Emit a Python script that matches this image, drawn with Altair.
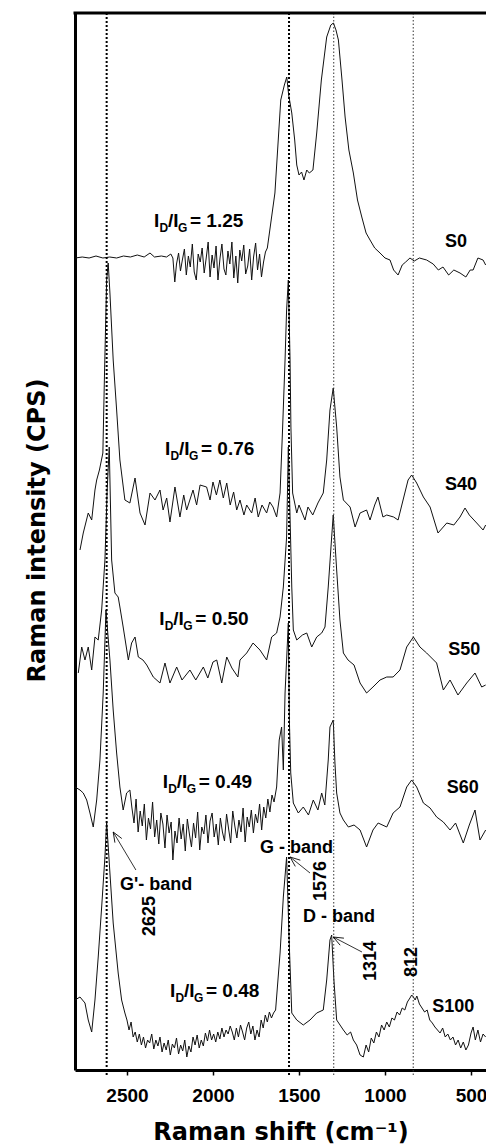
import altair as alt
import pandas as pd

# ---------------- spectra: Raman shift (cm^-1) and stacked intensity (a.u.) ----------------
s0_x = [2800, 2760, 2720, 2680, 2640, 2600, 2560, 2520, 2480, 2440, 2400, 2366, 2340, 2300, 2270, 2245,
        2233, 2222, 2212, 2200, 2189, 2178, 2166, 2155, 2143, 2132,
        2120, 2109, 2097, 2086, 2074, 2063, 2051, 2040, 2028, 2017,
        2005, 1994, 1982, 1971, 1959, 1948, 1936, 1925, 1913, 1902,
        1890, 1879, 1867, 1856, 1844, 1833, 1821, 1810, 1798, 1787,
        1775, 1764, 1752, 1741, 1729, 1718, 1706, 1695, 1684,
        1640, 1606, 1585, 1571, 1560, 1542, 1525, 1513, 1500, 1485, 1471, 1455, 1440, 1419, 1397, 1370,
        1339, 1315, 1300, 1285, 1271, 1250, 1232, 1210, 1184, 1160, 1135, 1110, 1087, 1060, 1029, 1000,
        971, 950, 924, 900, 880, 855, 830, 800, 758, 720, 690, 663, 630, 600, 564, 530, 505, 488, 460,
        430, 415]
s0_y = [812, 813, 812, 814, 812, 813, 812, 814, 813, 815, 813, 817, 813, 814, 813, 816,
        812, 788, 806, 817, 799, 810, 821, 795, 814, 803,
        826, 798, 790, 816, 808, 822, 797, 811, 828, 793,
        815, 802, 824, 790, 812, 826, 801, 795, 819, 806,
        828, 792, 814, 787, 820, 809, 825, 796, 804, 821,
        790, 813, 827, 800, 816, 793, 808, 818, 822,
        877, 970, 985, 993, 975, 957, 930, 905, 895, 898, 890, 900, 897, 900, 937, 990,
        1033, 1045, 1047, 1040, 1030, 990, 953, 920, 897, 870, 853, 837, 830, 822, 817, 812,
        810, 800, 795, 805, 808, 812, 809, 812, 810, 806, 800, 803, 795, 800, 797, 793, 800, 800, 812,
        810, 805]

s40_x = [2773, 2754, 2725, 2705, 2686, 2676, 2660, 2640, 2630, 2618, 2609, 2599, 2580, 2560, 2541,
         2512, 2483, 2453, 2424, 2395, 2366, 2337, 2308, 2290, 2269, 2250, 2221, 2192, 2170, 2153,
         2116, 2095, 2075, 2037, 2017, 2000, 1980, 1960, 1940, 1920, 1900, 1880, 1862, 1843, 1820,
         1804, 1775, 1755, 1737, 1715, 1688, 1670, 1651, 1630, 1610, 1595, 1581, 1572, 1562, 1552,
         1547, 1537, 1513, 1500, 1465, 1448, 1420, 1390, 1359, 1339, 1320, 1301, 1281, 1262, 1242,
         1203, 1174, 1145, 1107, 1087, 1060, 1041, 1012, 990, 950, 924, 895, 866, 845, 816,
         777, 738, 692, 641, 600, 564, 535, 510, 467, 430, 415]
s40_y = [520, 537, 557, 550, 580, 590, 600, 617, 700, 790, 807, 777, 710, 660, 610,
         570, 567, 592, 557, 545, 577, 570, 580, 560, 572, 548, 583, 553, 575, 560,
         580, 565, 585, 583, 570, 588, 575, 590, 572, 587, 565, 578, 560, 570, 555,
         565, 557, 572, 553, 565, 557, 568, 563, 553, 577, 643, 710, 760, 790, 710,
         643, 577, 557, 565, 550, 563, 555, 567, 577, 610, 660, 682, 643, 593, 570,
         563, 543, 557, 560, 550, 565, 573, 553, 555, 553, 550, 570, 590, 595, 587,
         573, 563, 537, 547, 545, 553, 562, 555, 547, 540, 545]

s50_x = [2783, 2763, 2744, 2725, 2705, 2686, 2667, 2647, 2628, 2615, 2603, 2589, 2570, 2551, 2541,
         2522, 2492, 2473, 2453, 2434, 2407, 2385, 2347, 2308, 2279, 2250, 2211, 2180, 2134, 2100,
         2056, 2030, 2000, 1978, 1949, 1920, 1890, 1855, 1843, 1804, 1767, 1727, 1688, 1659, 1630,
         1610, 1591, 1572, 1562, 1542, 1533, 1513, 1480, 1455, 1426, 1397, 1368, 1349, 1330, 1310,
         1301, 1281, 1262, 1242, 1215, 1180, 1145, 1107, 1070, 1029, 990, 953, 913, 874, 835,
         797, 758, 700, 661, 622, 576, 525, 477, 438, 415]
s50_y = [397, 423, 410, 423, 400, 433, 430, 460, 510, 580, 623, 510, 477, 473, 463,
         443, 410, 427, 433, 413, 410, 405, 393, 387, 407, 387, 403, 390, 400, 390,
         403, 392, 408, 410, 387, 413, 402, 393, 410, 417, 427, 420, 410, 433, 437,
         453, 483, 533, 623, 483, 440, 430, 435, 437, 423, 433, 437, 443, 483, 533,
         555, 500, 450, 417, 410, 405, 387, 377, 383, 390, 393, 393, 400, 423, 433,
         423, 417, 407, 380, 390, 375, 387, 397, 383, 385]

s60_x = [2802, 2773, 2754, 2734, 2715, 2696, 2676, 2657, 2638, 2622, 2599, 2580, 2560, 2541, 2522, 2502,
         2483, 2471, 2459, 2447, 2435, 2423, 2411, 2399, 2387, 2375,
         2363, 2351, 2339, 2327, 2315, 2303, 2291, 2279, 2267, 2255,
         2243, 2233, 2221, 2209, 2197, 2185, 2173, 2161, 2149, 2137,
         2125, 2113, 2101, 2089, 2077, 2065, 2053, 2041, 2029, 2017,
         2005, 1993, 1981, 1969, 1957, 1945, 1933, 1921, 1909, 1897,
         1885, 1873, 1861, 1849, 1837, 1825, 1813, 1801, 1789, 1777,
         1765, 1753, 1741, 1729, 1717, 1705, 1693, 1681, 1669, 1657,
         1645,
         1630, 1615, 1601, 1591, 1581, 1572, 1562, 1556, 1548,
         1533, 1504, 1475, 1445, 1417, 1390, 1368, 1350, 1330, 1320, 1301, 1291, 1281, 1262, 1242,
         1213, 1180, 1145, 1107, 1070, 1040, 990, 953, 913, 874, 845, 816, 777, 738, 700,
         661, 622, 590, 545, 510, 477, 448, 415]
s60_y = [283, 280, 277, 270, 257, 243, 270, 310, 377, 460, 410, 360, 317, 283, 260, 277,
         280, 262, 247, 271, 238, 259, 244, 266, 230, 252,
         241, 268, 233, 250, 226, 257, 246, 222, 255, 237,
         248, 210, 239, 227, 252, 231, 246, 219, 251, 236,
         223, 247, 232, 258, 220, 243, 236, 255, 227, 249,
         257, 233, 246, 225, 252, 238, 229, 256, 241, 227,
         259, 244, 232, 250, 238, 262, 228, 253, 243, 260,
         237, 256, 247, 266, 240, 263, 252, 271, 258, 275,
         268,
         283, 330, 343, 300, 377, 410, 447, 350, 297,
         267, 257, 263, 255, 270, 260, 277, 265, 310, 343, 350, 307, 277, 257, 250,
         243, 245, 240, 223, 240, 247, 243, 257, 263, 283, 290, 283, 267, 262, 253,
         248, 240, 247, 227, 245, 260, 230, 240]

s100_x = [2802, 2773, 2744, 2725, 2705, 2686, 2667, 2647, 2628, 2618, 2599, 2580, 2551, 2531,
          2512, 2500, 2488, 2476, 2464, 2452, 2440, 2428, 2416, 2404,
          2392, 2380, 2368, 2356, 2344, 2332, 2320, 2308, 2296, 2284,
          2272, 2260, 2248, 2236, 2224, 2212, 2200, 2188, 2176, 2164,
          2152, 2140, 2128, 2116, 2104, 2092, 2080, 2068, 2056, 2044,
          2032, 2020, 2008, 1996, 1984, 1972, 1960, 1948, 1936, 1924,
          1912, 1900, 1888, 1876, 1864, 1852, 1840, 1828, 1816, 1804,
          1792, 1780, 1768, 1756, 1744, 1732, 1720, 1708, 1696, 1684,
          1672, 1660, 1648, 1636,
          1610, 1591, 1572, 1556, 1542, 1513, 1475, 1436, 1397, 1359,
          1339, 1320, 1310, 1297, 1281, 1242, 1220, 1200, 1184, 1165, 1145,
          1126, 1110, 1095, 1080, 1065, 1050, 1035, 1020, 1005, 990,
          975, 960, 945, 930, 915, 900, 885, 870, 855, 845,
          835, 825, 815, 800, 785, 770, 755, 740, 725, 710,
          695, 680, 665, 650, 635, 620, 605, 590, 575, 560,
          545, 530, 515, 500, 488, 475, 460, 445, 430, 415]
s100_y = [70, 73, 67, 50, 38, 70, 113, 163, 213, 248, 197, 147, 97, 70,
          57, 50, 40, 48, 33, 38, 28, 36, 25, 33,
          22, 30, 27, 36, 21, 30, 24, 33, 18, 27,
          20, 30, 15, 26, 22, 32, 16, 25, 19, 30,
          13, 24, 18, 33, 25, 35, 22, 30, 24, 37,
          29, 40, 30, 36, 28, 38, 31, 42, 33, 40,
          36, 44, 38, 30, 42, 33, 45, 38, 30, 42,
          48, 36, 44, 30, 40, 33, 50, 42, 55, 48,
          58, 52, 57, 60,
          117, 173, 213, 123, 57, 50, 45, 50, 57, 60,
          90, 130, 135, 90, 50, 40, 35, 38, 30, 25, 15,
          13, 25, 18, 32, 27, 38, 33, 45, 40, 48,
          43, 52, 50, 58, 55, 62, 60, 68, 72, 75,
          73, 70, 74, 66, 62, 58, 60, 50, 47, 43,
          40, 37, 42, 33, 36, 30, 33, 25, 30, 22,
          28, 20, 25, 37, 43, 30, 40, 28, 36, 33]

# ---------------- annotations ----------------
major_lines = [2618, 1558]
minor_lines = [1298, 836]

ratio_text = ["= 1.25", "= 0.76", "= 0.50", "= 0.49", "= 0.48"]
ratio_x = [2343, 2279, 2312, 2292, 2250]
ratio_y = [843, 615, 445, 282, 73]

sample_names = ["S0", "S40", "S50", "S60", "S100"]
sample_x = [651, 651, 632, 641, 725]
sample_y = [823, 580, 415, 277, 58]

band_text = ["G'- band", "G - band", "D - band"]
band_x = [2541, 1727, 1477]
band_y = [180, 217, 148]

peak_text = ["2625", "1576", "1314", "812"]
peak_x = [2366, 1374, 1082, 845]
peak_y = [154, 189, 109, 108]

arrow_tip_x = [2580, 1552, 1301]
arrow_tip_y = [238, 213, 133]
arrow_tail_x = [2448, 1436, 1134]
arrow_tail_y = [200, 197, 118]
arrow_angle = [329, 309, 298]

x_ticks = [2500, 2000, 1500, 1000, 500]

# ---------------- build ----------------
frames = []
for name, xs, ys in [("S0", s0_x, s0_y), ("S40", s40_x, s40_y), ("S50", s50_x, s50_y),
                     ("S60", s60_x, s60_y), ("S100", s100_x, s100_y)]:
    frames.append(pd.DataFrame({"shift": xs, "intensity": ys, "sample": name}))
spec_df = pd.concat(frames, ignore_index=True)

x_scale = alt.Scale(domain=[413, 2802], reverse=True, nice=False, zero=False)
y_scale = alt.Scale(domain=[0, 1057], nice=False, zero=False)

FONT = "Liberation Sans"
TFONT = "DejaVu Sans"

x_axis = alt.Axis(values=x_ticks, format="d", title="Raman shift (cm⁻¹)", grid=False,
                  tickSize=5, tickWidth=1.5, tickColor="black",
                  domainColor="black", domainWidth=3,
                  labelFont=FONT, labelFontWeight="bold", labelFontSize=19, labelColor="black",
                  labelPadding=11,
                  titleFont=TFONT, titleFontSize=24, titleFontWeight="bold", titleColor="black",
                  titleY=69, titleBaseline="alphabetic")
y_axis = alt.Axis(title="Raman intensity (CPS)", labels=False, ticks=False, grid=False,
                  domainColor="black", domainWidth=3,
                  titleFont=TFONT, titleFontSize=24, titleFontWeight="bold", titleColor="black",
                  titleAngle=270, titleAlign="center", titleBaseline="middle",
                  titleX=-38, titleY=517)


def X(field="shift"):
    return alt.X(f"{field}:Q", scale=x_scale, axis=x_axis)


def Y(field="intensity"):
    return alt.Y(f"{field}:Q", scale=y_scale, axis=y_axis)


spectra = alt.Chart(spec_df).mark_line(color="#111111", strokeWidth=1).encode(
    x=X(), y=Y(), detail="sample:N",
)

major = alt.Chart(pd.DataFrame({"shift": major_lines})).mark_rule(
    color="black", strokeWidth=2, strokeDash=[2, 2]
).encode(x=X(), y=alt.value(0), y2=alt.value(1062))

minor = alt.Chart(pd.DataFrame({"shift": minor_lines})).mark_rule(
    color="#333333", strokeWidth=1, strokeDash=[1.5, 2]
).encode(x=X(), y=alt.value(0), y2=alt.value(1062))

top_frame = alt.Chart(pd.DataFrame({"a": [0]})).mark_rule(color="black", strokeWidth=3).encode(
    x=alt.value(-1.5), x2=alt.value(412), y=alt.value(0)
)

ratio_df = pd.DataFrame({"shift": ratio_x, "intensity": ratio_y, "rest": ratio_text})
txt = dict(font=FONT, fontWeight="bold", color="black", align="left", baseline="alphabetic")
r_I1 = alt.Chart(ratio_df).mark_text(text="I", fontSize=19, **txt).encode(x=X(), y=Y())
r_D = alt.Chart(ratio_df).mark_text(text="D", fontSize=12, dx=5.5, dy=5, **txt).encode(x=X(), y=Y())
r_I2 = alt.Chart(ratio_df).mark_text(text="/I", fontSize=19, dx=14, **txt).encode(x=X(), y=Y())
r_G = alt.Chart(ratio_df).mark_text(text="G", fontSize=12, dx=24, dy=5, **txt).encode(x=X(), y=Y())
r_rest = alt.Chart(ratio_df).mark_text(fontSize=19, dx=36, **txt).encode(
    x=X(), y=Y(), text="rest:N")

samples = alt.Chart(pd.DataFrame({"shift": sample_x, "intensity": sample_y, "t": sample_names})
                    ).mark_text(fontSize=18, **txt).encode(x=X(), y=Y(), text="t:N")

bands = alt.Chart(pd.DataFrame({"shift": band_x, "intensity": band_y, "t": band_text})
                  ).mark_text(fontSize=18, **txt).encode(x=X(), y=Y(), text="t:N")

peaks = alt.Chart(pd.DataFrame({"shift": peak_x, "intensity": peak_y, "t": peak_text})).mark_text(
    font=FONT, fontWeight="bold", color="black", fontSize=18, angle=270,
    align="center", baseline="middle"
).encode(x=X(), y=Y(), text="t:N")

arrow_df = pd.DataFrame({"shift": arrow_tip_x, "intensity": arrow_tip_y,
                         "shift2": arrow_tail_x, "intensity2": arrow_tail_y,
                         "angle": arrow_angle})
shafts = alt.Chart(arrow_df).mark_rule(color="black", strokeWidth=0.8).encode(
    x=X(), y=Y(), x2="shift2:Q", y2="intensity2:Q")
heads = alt.Chart(arrow_df).mark_point(
    shape="M -0.4 1 L 0 0 L 0.4 1", filled=False, color="black", strokeWidth=0.8, size=400,
    opacity=1
).encode(x=X(), y=Y(), angle=alt.Angle("angle:Q", scale=None))

chart = alt.layer(
    spectra, major, minor, top_frame,
    r_I1, r_D, r_I2, r_G, r_rest, samples, bands, peaks, shafts, heads
).properties(
    width=411, height=1057,
    autosize=alt.AutoSizeParams(type="none"),
    padding={"left": 75, "top": 13, "right": 0, "bottom": 77},
    background="white",
).configure_view(stroke=None)

chart.save("out.html", embed_options={"renderer": "svg", "actions": False})
